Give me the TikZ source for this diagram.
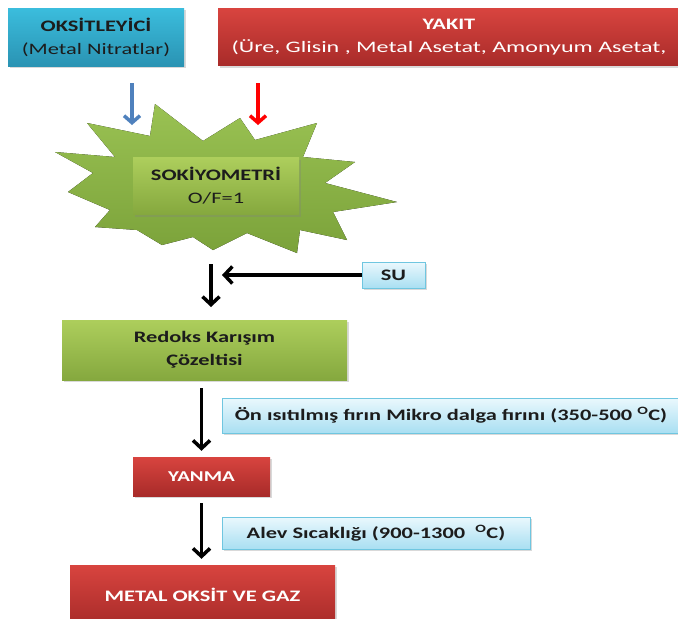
\documentclass[tikz,border=0pt]{standalone}
\usepackage{fontspec}
\setmainfont{Carlito}[FakeStretch=1.4]
\newfontfamily\widefont{Carlito}[FakeStretch=1.5]
\usetikzlibrary{arrows.meta,positioning,shadows}
\definecolor{redtop}{HTML}{D8443F}
\definecolor{redbot}{HTML}{A82B29}
\definecolor{cyantop}{HTML}{3BBDDD}
\definecolor{cyanbot}{HTML}{2A93B3}
\definecolor{greentop}{HTML}{ADCE5C}
\definecolor{greenbot}{HTML}{85A83E}
\definecolor{startop}{HTML}{9AC253}
\definecolor{starbot}{HTML}{7BA23A}
\definecolor{skytop}{HTML}{EAF8FD}
\definecolor{skybot}{HTML}{A9DFF2}
\definecolor{skyline}{HTML}{6FC6E0}
\definecolor{oxblue}{HTML}{4F81BD}
\definecolor{inktext}{HTML}{1C1C1C}
\tikzset{font=\fontsize{16}{23}\selectfont}
\tikzset{
  box/.style={inner sep=0pt, align=center,
    drop shadow={opacity=0.3, shadow xshift=1.5pt, shadow yshift=-2pt}},
  redbox/.style={box, top color=redtop, bottom color=redbot, text=white},
  cyanbox/.style={box, top color=cyantop, bottom color=cyanbot, text=inktext},
  greenbox/.style={box, top color=greentop, bottom color=greenbot, text=inktext},
  skybox/.style={box, top color=skytop, bottom color=skybot, draw=skyline,
    line width=1pt, text=inktext, font=\fontsize{16}{23}\selectfont\bfseries},
  burst/.style={top color=startop, bottom color=starbot},
  flow/.style={line width=3.5pt, -{Straight Barb[length=8pt,width=17pt]}},
  feed/.style={line width=3.5pt, -{Straight Barb[length=7pt,width=16pt]}}
}

\begin{document}
\begin{tikzpicture}[x=1pt,y=-1pt]
  \useasboundingbox (0,0) rectangle (678,619);

  % inputs
  \node[cyanbox, minimum width=176, minimum height=58] (oks) at (96,37)
    {\textbf{OKSİTLEYİCİ}\\(Metal Nitratlar)};
  \node[redbox, minimum width=462, minimum height=57] (yakit) at (449,37)
    {\textbf{YAKIT}\\{\widefont(Üre, Glisin , Metal Asetat, Amonyum Asetat,}};

  % stoichiometry burst
  \fill[burst] (87,123) -- (150,136) -- (155,104) -- (203,141) -- (240,118)
    -- (255,140) -- (317,123) -- (303,157) -- (355,162) -- (325,183)
    -- (397,202) -- (333,212) -- (347,240) -- (300,230) -- (297,253)
    -- (247,233) -- (213,250) -- (193,237) -- (162,245) -- (137,230)
    -- (95,227) -- (110,210) -- (68,192) -- (93,173) -- (55,152)
    -- (115,157) -- cycle;
  \node[greenbox, minimum width=166, minimum height=57] (stoik) at (216,186)
    {\textbf{SOKİYOMETRİ}\\O/F=1};

  \coordinate (oxtop) at (132,83);
  \coordinate (oxend) at (132,125);
  \coordinate (futop) at (258,83);
  \coordinate (fuend) at (258,125);
  \draw[feed, oxblue] (oxtop) -- (oxend);
  \draw[feed, red] (futop) -- (fuend);

  % water
  \coordinate (mixtop) at (211,264);
  \coordinate (mixend) at (211,307);
  \coordinate (sutip) at (222,275);
  \node[skybox, minimum width=63, minimum height=26] (su) at (393.5,275) {SU};
  \draw[flow] (mixtop) -- (mixend);
  \draw[flow] (su.west) -- (sutip);

  % redox solution
  \node[greenbox, minimum width=285, minimum height=60] (redoks) at (204.5,350)
    {\textbf{Redoks Karışım}\\\textbf{Çözeltisi}};
  \node[redbox, minimum width=137, minimum height=39] (yanma) at (201.5,476.5)
    {\fontsize{15}{20}\selectfont\textbf{YANMA}};
  \node[skybox, minimum width=458, minimum height=35] (firin) at (451,415.5)
    {Ön ısıtılmış fırın Mikro dalga fırını (350-500 \textsuperscript{O}C)};
  \draw[flow, shorten <=8pt, shorten >=6pt] (redoks.south -| yanma.north) -- (yanma.north);

  % combustion
  \node[redbox, minimum width=265, minimum height=60] (oksit) at (202.5,595)
    {\textbf{METAL OKSİT VE GAZ}};
  \node[skybox, minimum width=308, minimum height=32] (alev) at (376,533)
    {Alev Sıcaklığı (900-1300\ \ \textsuperscript{O}C)};
  \draw[flow, shorten <=7pt, shorten >=6pt] (yanma.south) -- (yanma.south |- oksit.north);

\end{tikzpicture}
\end{document}
